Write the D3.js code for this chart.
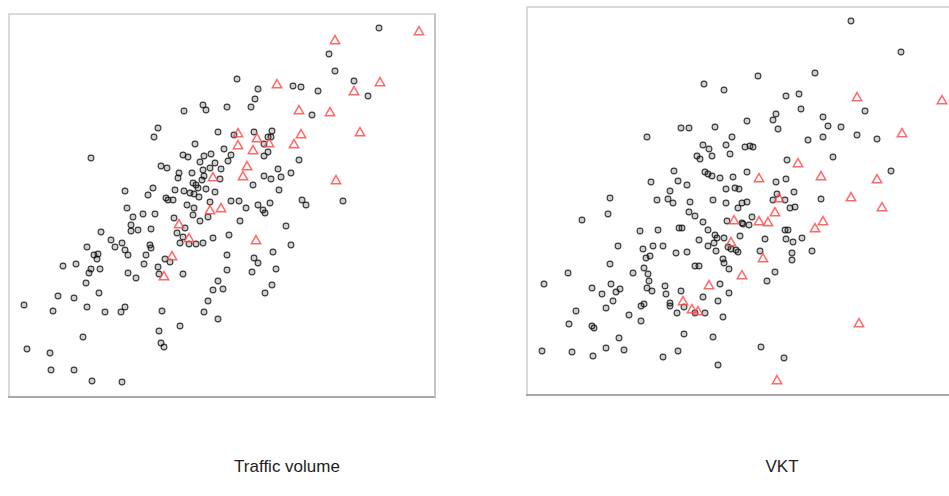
<!DOCTYPE html>
<html>
<head>
<meta charset="utf-8">
<script src="https://cdn.jsdelivr.net/npm/d3@7"></script>
<style>
  body { margin: 0; background: #fff; }
  svg { display: block; }
  .panel-label { font-family: "Liberation Sans", Arial, sans-serif; font-size: 17px; fill: #222; }
</style>
</head>
<body>
<div id="chart"></div>
<script>
// Values (axes carry no ticks, arbitrary units)
const trafficOther = [
  [370,369],[320,343],[326,326],[345,316],[359,301],[228,318],[249,308],[246,298],[218,290],[242,290],
  [284,311],[292,310],[309,306],[303,282],[225,262],[245,265],[263,266],[259,260],[262,260],[255,253],
  [215,248],[222,242],[219,236],[259,245],[255,241],[290,237],[269,228],[255,221],[262,218],[272,220],
  [282,224],[212,228],[211,218],[244,212],[270,207],[222,196],[230,196],[237,189],[249,192],[261,194],
  [293,197],[297,192],[334,196],[82,239],[175,286],[194,292],[197,287],[149,269],[145,260],[209,265],
  [186,253],[174,242],[179,240],[195,241],[202,243],[191,235],[152,231],[158,229],[206,234],[201,229],
  [170,224],[169,219],[183,224],[194,227],[195,221],[184,214],[187,212],[189,209],[193,217],[144,209],
  [116,206],[139,202],[166,207],[175,206],[181,204],[185,203],[190,200],[197,208],[206,205],[157,199],
  [159,197],[164,197],[178,192],[185,189],[201,195],[118,189],[124,180],[134,183],[146,183],[184,182],
  [191,176],[199,180],[165,179],[176,169],[168,164],[174,160],[171,154],[180,153],[187,153],[194,154],
  [204,159],[220,162],[122,172],[122,166],[129,167],[142,168],[92,165],[78,150],[102,157],[106,150],
  [113,154],[116,147],[119,142],[141,152],[142,149],[85,142],[89,143],[88,138],[137,142],[135,133],
  [54,131],[67,133],[82,128],[80,124],[91,128],[77,114],[119,124],[127,119],[149,130],[150,123],
  [156,138],[161,135],[174,123],[218,142],[218,127],[209,116],[204,107],[214,108],[199,96],[195,85],
  [209,78],[49,101],[65,99],[90,104],[15,92],[44,86],[78,90],[96,85],[112,85],[116,90],
  [153,86],[171,71],[150,66],[152,54],[155,50],[74,60],[18,48],[41,44],[42,27],[65,27],
  [83,16],[113,15],[254,187],[256,184],[231,176],[277,171],[282,152],[264,145],[245,139],[249,134],
  [243,125],[267,128],[263,112],[256,104]
];
const trafficHighlight = [
  [410,365],[326,356],[371,314],[345,305],[268,312],[290,286],[321,284],[351,264],[292,262],[229,263],
  [248,258],[260,253],[229,251],[244,246],[285,252],[238,230],[234,220],[327,216],[204,219],[201,186],
  [212,188],[170,172],[180,158],[163,140],[155,120],[247,156]
];
const vktOther = [
  [324,374],[374,343],[288,322],[231,319],[259,299],[272,301],[274,286],[338,284],[296,278],[301,269],
  [314,268],[249,281],[246,275],[220,274],[251,266],[330,260],[350,256],[281,255],[296,258],[218,248],
  [223,249],[226,248],[306,238],[260,235],[220,223],[259,216],[249,213],[364,224],[267,203],[250,201],
  [246,195],[294,196],[215,192],[220,193],[211,187],[263,187],[268,188],[258,195],[177,311],[197,305],
  [154,267],[162,267],[188,268],[120,258],[205,258],[176,250],[182,246],[199,250],[170,239],[173,236],
  [185,239],[203,241],[147,224],[178,223],[181,221],[185,219],[193,217],[206,218],[124,213],[151,214],
  [160,210],[143,204],[199,206],[208,207],[212,206],[83,197],[130,195],[141,196],[146,192],[163,193],
  [186,195],[199,192],[81,181],[55,175],[162,183],[168,179],[176,173],[152,167],[155,167],[131,165],
  [113,164],[181,165],[188,160],[190,157],[197,157],[200,174],[215,172],[213,159],[172,155],[181,149],
  [187,152],[189,144],[209,145],[211,143],[91,149],[116,146],[126,149],[136,149],[149,142],[160,143],
  [123,139],[119,137],[196,136],[197,132],[202,126],[168,129],[172,129],[83,131],[117,127],[121,121],
  [122,114],[106,122],[41,122],[17,111],[65,107],[84,111],[75,101],[89,103],[93,106],[120,107],
  [125,104],[138,109],[139,101],[154,104],[193,111],[202,102],[176,98],[191,94],[86,94],[79,87],
  [49,84],[143,92],[143,89],[157,88],[114,89],[117,91],[102,80],[150,82],[168,82],[178,82],
  [196,78],[114,74],[42,71],[65,69],[67,67],[157,61],[186,58],[92,57],[79,47],[97,45],
  [15,44],[45,43],[66,39],[151,44],[136,38],[191,30],[225,178],[216,171],[222,170],[238,156],
  [259,156],[261,165],[258,165],[266,153],[275,157],[233,144],[265,142],[265,135],[285,144],[248,123],
  [240,114],[234,48],[257,37],[201,148],[204,146]
];
const vktHighlight = [
  [330,297],[415,294],[375,261],[271,231],[232,216],[294,218],[350,215],[252,196],[324,197],[355,187],
  [248,182],[232,173],[241,172],[207,174],[296,173],[288,166],[204,152],[236,136],[215,119],[182,109],
  [156,93],[165,85],[171,83],[332,71],[250,14]
];
const panelTitles = ['Traffic volume', 'VKT'];

// Layout
const W = 949, H = 496;
const panels = [
  { title: panelTitles[0], other: trafficOther, hi: trafficHighlight,
    x: 9, y: 14, w: 426, h: 383, xMax: 426, yMax: 383, labelX: 287 },
  { title: panelTitles[1], other: vktOther, hi: vktHighlight,
    x: 527, y: 7, w: 426, h: 388, xMax: 426, yMax: 388, labelX: 782 }
];

const svg = d3.select('#chart')
  .append('svg')
  .attr('width', W)
  .attr('height', H);

const defs = svg.append('defs');
defs.append('filter')
  .attr('id', 'soft')
  .append('feGaussianBlur')
  .attr('stdDeviation', 0.4);

const triangle = d3.symbol().type(d3.symbolTriangle).size(38);

panels.forEach(p => {
  const g = svg.append('g')
    .attr('transform', `translate(${p.x},${p.y})`);

  const x = d3.scaleLinear().domain([0, p.xMax]).range([0, p.w]);
  const y = d3.scaleLinear().domain([0, p.yMax]).range([p.h, 0]);

  // frame
  g.append('rect')
    .attr('x', 0).attr('y', 0)
    .attr('width', p.w).attr('height', p.h)
    .attr('fill', '#fff')
    .attr('stroke', '#dadada')
    .attr('stroke-width', 2);
  g.append('line')
    .attr('x1', -1).attr('x2', p.w + 1)
    .attr('y1', p.h).attr('y2', p.h)
    .attr('stroke', '#a8a8a8')
    .attr('stroke-width', 2);
  g.append('line')
    .attr('x1', p.w).attr('x2', p.w)
    .attr('y1', 0).attr('y2', p.h)
    .attr('stroke', '#c4c4c4')
    .attr('stroke-width', 2);

  const marks = g.append('g').attr('filter', 'url(#soft)');

  // black circles
  marks.selectAll('circle')
    .data(p.other)
    .enter()
    .append('circle')
    .attr('cx', d => x(d[0]))
    .attr('cy', d => y(d[1]))
    .attr('r', 2.9)
    .attr('fill', 'rgba(0,0,0,0.18)')
    .attr('stroke', '#111')
    .attr('stroke-opacity', 0.8)
    .attr('stroke-width', 1.1);

  // red triangles
  marks.selectAll('path.tri')
    .data(p.hi)
    .enter()
    .append('path')
    .attr('class', 'tri')
    .attr('d', triangle)
    .attr('transform', d => `translate(${x(d[0])},${y(d[1])})`)
    .attr('fill', 'none')
    .attr('stroke', '#ff4d4d')
    .attr('stroke-opacity', 0.85)
    .attr('stroke-width', 1.5);

  svg.append('text')
    .attr('class', 'panel-label')
    .attr('x', p.labelX)
    .attr('y', 472)
    .attr('text-anchor', 'middle')
    .text(p.title);
});
</script>
</body>
</html>
